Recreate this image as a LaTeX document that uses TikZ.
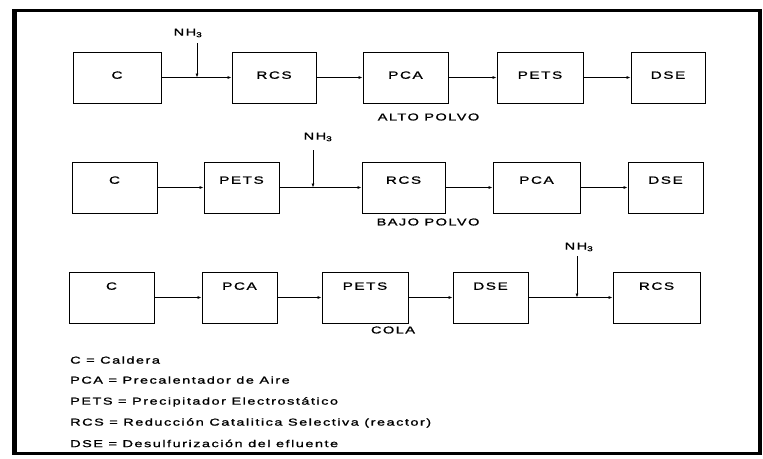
\documentclass[tikz,border=0pt]{standalone}
\usepackage{fontspec}
\setmainfont{Liberation Sans}[FakeStretch=1.45,LetterSpace=15,FakeBold=1.2]
\usetikzlibrary{arrows.meta}

\begin{document}
\begin{tikzpicture}[x=1pt,y=-1pt,
  blk/.style={draw,line width=0.9pt,minimum width=#1,minimum height=51pt,
    inner sep=0pt,font=\fontsize{10.5}{12}\selectfont,text height=7.5pt,text depth=0pt},
  flow/.style={-{Latex[length=4pt,width=3pt]},line width=0.7pt},
  tag/.style={font=\fontsize{10}{12}\selectfont,inner sep=0pt},
  leg/.style={anchor=base west,font=\fontsize{10}{12}\selectfont,inner sep=0pt}]
\useasboundingbox (0,0) rectangle (763,458);
% marco
\draw[line width=2.5pt] (14.5,10.5) rectangle (760,453.5);
\draw[line width=5pt] (14.5,9.3) -- (14.5,454.7);
\draw[line width=4pt] (760,9.3) -- (760,454.7);
% alto polvo
\node[blk=88pt] (c1) at (117,77.5) {\raisebox{2.5pt}[7.5pt][0pt]{C}};
\node[blk=84pt] (rcs1) at (274,77.5) {\raisebox{2.5pt}[7.5pt][0pt]{RCS}};
\node[blk=85pt] (pca1) at (405.5,77.5) {\raisebox{2.5pt}[7.5pt][0pt]{PCA}};
\node[blk=86pt] (pets1) at (540,77.5) {\raisebox{2.5pt}[7.5pt][0pt]{PETS}};
\node[blk=74pt] (dse1) at (668,77.5) {\raisebox{2.5pt}[7.5pt][0pt]{DSE}};
\node[tag] (nh1) at (188,33) {NH\textsubscript{3}};
\coordinate (a1) at (197,43);
\coordinate (j1) at (197,77.5);
\draw[flow] (c1) -- (rcs1);
\draw[flow] (a1) -- (j1);
\draw[flow] (rcs1) -- (pca1);
\draw[flow] (pca1) -- (pets1);
\draw[flow] (pets1) -- (dse1);
\node[tag] (alto) at (428.5,117) {ALTO POLVO};
% bajo polvo
\node[blk=85pt] (c2) at (114.5,187.5) {\raisebox{7.5pt}[7.5pt][0pt]{C}};
\node[blk=75pt] (pets2) at (241.5,187.5) {\raisebox{7.5pt}[7.5pt][0pt]{PETS}};
\node[blk=83pt] (rcs2) at (403.5,187.5) {\raisebox{7.5pt}[7.5pt][0pt]{RCS}};
\node[blk=87pt] (pca2) at (536.5,187.5) {\raisebox{7.5pt}[7.5pt][0pt]{PCA}};
\node[blk=75pt] (dse2) at (665.5,187.5) {\raisebox{7.5pt}[7.5pt][0pt]{DSE}};
\node[tag] (nh2) at (318,137) {NH\textsubscript{3}};
\coordinate (a2) at (313,150);
\coordinate (j2) at (313,187.5);
\draw[flow] (c2) -- (pets2);
\draw[flow] (pets2) -- (rcs2);
\draw[flow] (a2) -- (j2);
\draw[flow] (rcs2) -- (pca2);
\draw[flow] (pca2) -- (dse2);
\node[tag] (bajo) at (428,222) {BAJO POLVO};
% cola
\node[blk=85pt] (c3) at (111.5,297.5) {\raisebox{11.5pt}[7.5pt][0pt]{C}};
\node[blk=75pt] (pca3) at (239.5,297.5) {\raisebox{11.5pt}[7.5pt][0pt]{PCA}};
\node[blk=86pt] (pets3) at (365,297.5) {\raisebox{11.5pt}[7.5pt][0pt]{PETS}};
\node[blk=75pt] (dse3) at (490.5,297.5) {\raisebox{11.5pt}[7.5pt][0pt]{DSE}};
\node[blk=87pt] (rcs3) at (656.5,297.5) {\raisebox{11.5pt}[7.5pt][0pt]{RCS}};
\node[tag] (nh3) at (579,247) {NH\textsubscript{3}};
\coordinate (a3) at (577,256);
\coordinate (j3) at (577,297.5);
\draw[flow] (c3) -- (pca3);
\draw[flow] (pca3) -- (pets3);
\draw[flow] (pets3) -- (dse3);
\draw[flow] (dse3) -- (rcs3);
\draw[flow] (a3) -- (j3);
\node[tag] (cola) at (393,330) {COLA};
% leyenda
\node[leg] (l1) at (70,363.6) {C = Caldera};
\node[leg] (l2) at (70,383.6) {PCA = Precalentador de Aire};
\node[leg] (l3) at (70,404.6) {PETS = Precipitador Electrostático};
\node[leg] (l4) at (70,425.6) {RCS = Reducción Catalitica Selectiva (reactor)};
\node[leg] (l5) at (70,447.1) {DSE = Desulfurización del efluente};
\end{tikzpicture}
\end{document}
